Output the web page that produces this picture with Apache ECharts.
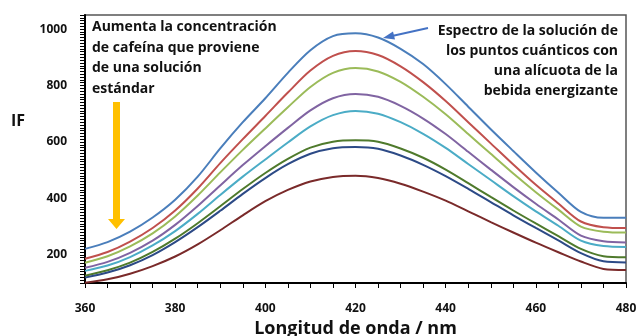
<!DOCTYPE html>
<html>
<head>
<meta charset="utf-8">
<script src="https://cdn.jsdelivr.net/npm/echarts@6/dist/echarts.min.js"></script>
<style>
  html, body { margin: 0; padding: 0; background: #fff; }
  #chart { width: 641px; height: 336px; }
</style>
</head>
<body>
<div id="chart"></div>
<script>
// longitud de onda (nm)
var wavelengths = [360, 365, 370, 375, 380, 385, 390, 395, 400, 405, 410, 415, 420,
  425, 430, 435, 440, 445, 450, 455, 460, 465, 470, 475, 480];

// IF de cada espectro, de mayor a menor
var sBlue   = [221, 245, 282, 332, 395, 477, 577, 670, 755, 845, 925, 975, 985, 970, 930, 876, 805, 725, 645, 568, 492, 420, 352, 331, 331];
var sRed    = [186, 210, 247, 295, 357, 435, 525, 610, 692, 775, 853, 905, 922, 908, 868, 812, 745, 670, 595, 520, 448, 382, 318, 298, 295];
var sGreen  = [172, 195, 230, 276, 336, 410, 492, 572, 648, 723, 795, 845, 862, 850, 813, 760, 698, 628, 558, 488, 422, 360, 300, 282, 279];
var sPurple = [154, 175, 207, 250, 306, 373, 446, 518, 585, 650, 712, 755, 770, 760, 728, 683, 628, 565, 502, 440, 381, 325, 268, 248, 244];
var sCyan   = [143, 162, 192, 233, 284, 345, 412, 477, 538, 598, 655, 695, 710, 700, 670, 629, 579, 522, 465, 408, 354, 303, 250, 231, 228];
var sOlive  = [126, 145, 172, 210, 257, 312, 372, 433, 490, 540, 580, 601, 606, 601, 577, 544, 502, 454, 405, 357, 311, 266, 221, 195, 191];
var sNavy   = [119, 137, 163, 199, 245, 298, 356, 416, 472, 521, 558, 578, 582, 576, 552, 519, 479, 434, 387, 340, 295, 251, 206, 177, 173];
var sBrown  = [101, 113, 133, 160, 194, 237, 287, 340, 390, 430, 460, 476, 480, 472, 452, 424, 392, 354, 316, 279, 243, 209, 176, 150, 146];

var allSeries = [sBlue, sRed, sGreen, sPurple, sCyan, sOlive, sNavy, sBrown];
var colors = ['#4a7ebb', '#c0504d', '#9bbb59', '#8064a2', '#4bacc6', '#4f7a2c', '#2c4a86', '#7a2a2a'];

var yLabels = [200, 400, 600, 800, 1000];

var chart = echarts.init(document.getElementById('chart'));

var series = allSeries.map(function (vals, i) {
  return {
    type: 'line',
    symbol: 'none',
    smooth: 0.3,
    lineStyle: { color: colors[i], width: 2 },
    data: wavelengths.map(function (w, j) { return [w, vals[j]]; })
  };
});

var font = '"Open Sans", "DejaVu Sans", sans-serif';

var option = {
  animation: false,
  grid: {
    left: 85, right: 15, top: 15, bottom: 53,
    containLabel: false, outerBoundsMode: 'none',
    show: true, borderColor: '#555', borderWidth: 1.5
  },
  xAxis: {
    type: 'value',
    min: 360, max: 480, interval: 5,
    name: 'Longitud de onda / nm',
    nameLocation: 'middle',
    nameGap: 36,
    nameTextStyle: { fontFamily: font, fontWeight: 'bold', fontSize: 18, color: '#111' },
    axisLine: { show: true, lineStyle: { color: '#000', width: 2 } },
    axisTick: { show: true, length: 5, lineStyle: { color: '#000', width: 1 } },
    splitLine: { show: false },
    axisLabel: {
      fontFamily: font, fontWeight: 'bold', fontSize: 12, color: '#111', margin: 20,
      formatter: function (v) { return v % 20 === 0 ? String(v) : ''; }
    }
  },
  yAxis: {
    type: 'value',
    min: 100, max: 1050, interval: 10,
    axisLine: { show: true, lineStyle: { color: '#000', width: 2 } },
    axisTick: { show: true, length: 5, lineStyle: { color: '#000', width: 1 } },
    splitLine: { show: false },
    axisLabel: {
      fontFamily: font, fontWeight: 'bold', fontSize: 12, color: '#111', margin: 18,
      formatter: function (v) { return yLabels.indexOf(v) >= 0 ? String(v) : ''; }
    }
  },
  series: series,
  graphic: [
    {
      type: 'text', x: 11, y: 113, z: 10,
      style: { text: 'IF', font: 'bold 16px ' + font, fill: '#111' }
    },
    {
      type: 'text', x: 92, y: 17, z: 10,
      style: {
        text: 'Aumenta la concentración\nde cafeína que proviene\nde una solución\nestándar',
        font: 'bold 14px ' + font, fill: '#111', lineHeight: 20.5
      }
    },
    {
      type: 'text', x: 618, y: 21, z: 10,
      style: {
        text: 'Espectro de la solución de\nlos puntos cuánticos con\nuna alícuota de la\nbebida energizante',
        font: 'bold 14px ' + font, fill: '#111', lineHeight: 20, textAlign: 'right'
      }
    },
    {
      type: 'polygon', z: 10,
      shape: { points: [[113, 102], [120, 102], [120, 219], [125, 219], [116.5, 229], [108, 219], [113, 219]] },
      style: { fill: '#ffc000' }
    },
    {
      type: 'line', z: 10,
      shape: { x1: 428, y1: 28, x2: 392, y2: 36 },
      style: { stroke: '#4472c4', lineWidth: 2 }
    },
    {
      type: 'polygon', z: 10,
      shape: { points: [[383, 38], [393, 31.5], [395, 39.5]] },
      style: { fill: '#4472c4' }
    }
  ]
};

chart.setOption(option);
</script>
</body>
</html>
